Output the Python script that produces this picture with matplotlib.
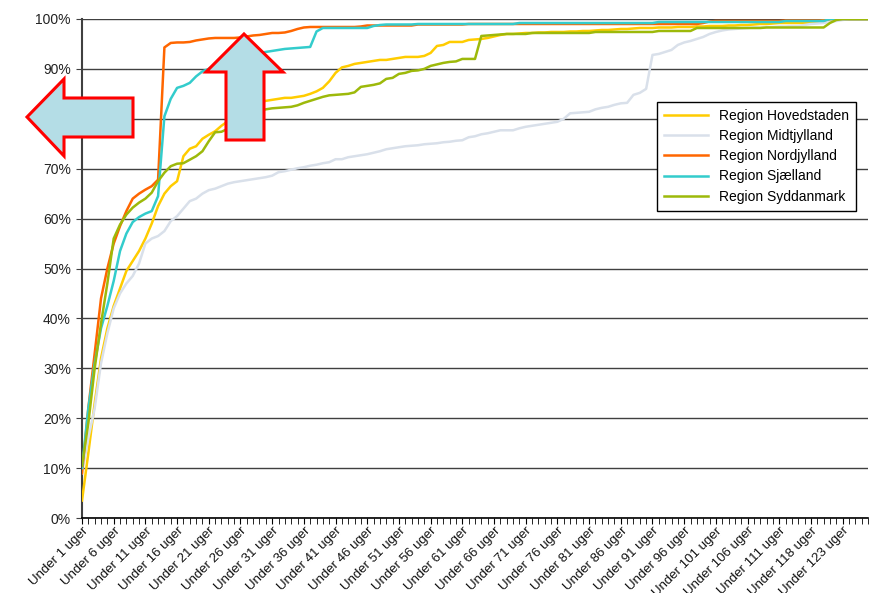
import numpy as np
import matplotlib.pyplot as plt
from matplotlib.patches import Polygon
from matplotlib.transforms import Affine2D

plt.rcParams['font.family'] = ['Liberation Sans', 'DejaVu Sans']

# weeks on the category axis (a few weeks are missing after 111)
weeks = list(range(1, 112)) + [112, 113, 115, 116] + list(range(118, 128))
categories = ["Under %d uger" % w for w in weeks]

hovedstaden = [
    3.5, 13, 23, 32, 38, 42.5, 46, 49.5, 51.5, 53.5,
    56, 59, 62.5, 65, 66.5, 67.5, 72.5, 74, 74.5, 76,
    76.8, 77.5, 78.6, 79.5, 80.5, 81.3, 82, 82.6, 83.2, 83.6,
    83.8, 84, 84.2, 84.2, 84.4, 84.6, 85, 85.5, 86.2, 87.5,
    89.2, 90.3, 90.6, 91, 91.2, 91.4, 91.6, 91.8, 91.8, 92,
    92.2, 92.4, 92.4, 92.4, 92.6, 93.2, 94.6, 94.8, 95.4, 95.4,
    95.4, 95.8, 95.9, 96, 96.2, 96.5, 96.8, 97, 97, 97.1,
    97.2, 97.2, 97.3, 97.3, 97.4, 97.4, 97.4, 97.5, 97.5, 97.6,
    97.6, 97.7, 97.8, 97.8, 97.9, 98, 98, 98.1, 98.2, 98.2,
    98.2, 98.3, 98.3, 98.3, 98.4, 98.4, 98.4, 98.5, 98.5, 98.6,
    98.6, 98.6, 98.7, 98.7, 98.8, 98.8, 98.9, 99, 99, 99.1,
    99.2, 99.2, 99.2, 99.2, 99.2, 99.2, 99.4, 99.8, 100, 100,
    100, 100, 100, 100, 100,
]
midtjylland = [
    9, 16, 22, 31, 37, 42, 45, 47, 48.5, 51,
    55, 56, 56.5, 57.5, 59.5, 60.5, 62, 63.5, 64, 65,
    65.7, 66, 66.5, 67, 67.3, 67.5, 67.7, 67.9, 68.1, 68.3,
    68.6, 69.3, 69.5, 69.8, 70.1, 70.3, 70.6, 70.8, 71.1, 71.3,
    71.9, 71.9, 72.3, 72.5, 72.7, 72.9, 73.2, 73.5, 73.9, 74.1,
    74.3, 74.5, 74.6, 74.7, 74.9, 75, 75.1, 75.3, 75.4, 75.6,
    75.7, 76.3, 76.5, 76.9, 77.1, 77.4, 77.7, 77.7, 77.7, 78.1,
    78.4, 78.6, 78.8, 79, 79.2, 79.4, 80, 81.1, 81.2, 81.3,
    81.4, 81.9, 82.2, 82.4, 82.8, 83.1, 83.2, 84.8, 85.2, 86,
    92.8, 93, 93.4, 93.8, 94.8, 95.3, 95.6, 96, 96.4, 97,
    97.4, 97.7, 97.9, 98, 98.1, 98.2, 98.3, 98.3, 98.4, 98.4,
    98.5, 98.5, 98.6, 98.6, 98.8, 99, 99.1, 99.2, 99.4, 99.6,
    99.8, 100, 100, 100, 100,
]
nordjylland = [
    9, 22, 33, 44, 50, 55, 58.5, 61.5, 64, 65,
    65.8, 66.5, 67.8, 94.3, 95.2, 95.3, 95.3, 95.4, 95.7, 95.9,
    96.1, 96.2, 96.2, 96.2, 96.2, 96.3, 96.5, 96.7, 96.8, 97,
    97.2, 97.2, 97.3, 97.6, 98, 98.3, 98.4, 98.4, 98.4, 98.4,
    98.4, 98.4, 98.4, 98.4, 98.5, 98.7, 98.7, 98.7, 98.7, 98.7,
    98.7, 98.7, 98.7, 98.9, 98.9, 98.9, 98.9, 98.9, 98.9, 98.9,
    98.9, 99, 99, 99, 99, 99, 99, 99, 99, 99,
    99, 99, 99, 99, 99, 99, 99, 99, 99, 99,
    99, 99, 99, 99, 99, 99, 99, 99, 99, 99,
    99, 99, 99, 99, 99, 99, 99, 99, 99.2, 99.5,
    99.6, 99.6, 99.6, 99.6, 99.6, 99.6, 99.6, 99.6, 99.6, 99.6,
    99.6, 99.7, 99.7, 99.7, 99.7, 99.7, 99.7, 99.7, 100, 100,
    100, 100, 100, 100, 100,
]
sjaelland = [
    10, 22, 31, 38, 42.5, 47.5, 53.5, 57, 59.3, 60.3,
    61, 61.5, 64.5, 80.5, 84, 86.2, 86.6, 87.2, 88.5, 89.5,
    90, 90.8, 91.5, 92, 92.4, 92.7, 92.9, 93, 93.2, 93.4,
    93.6, 93.8, 94, 94.1, 94.2, 94.3, 94.4, 97.5, 98.2, 98.2,
    98.2, 98.2, 98.2, 98.2, 98.2, 98.2, 98.6, 98.8, 98.9, 98.9,
    98.9, 98.9, 98.9, 99, 99, 99, 99, 99, 99, 99,
    99, 99, 99, 99, 99, 99, 99, 99, 99, 99.2,
    99.2, 99.2, 99.2, 99.2, 99.2, 99.2, 99.2, 99.2, 99.2, 99.2,
    99.2, 99.2, 99.2, 99.2, 99.2, 99.2, 99.2, 99.2, 99.2, 99.2,
    99.2, 99.4, 99.4, 99.4, 99.4, 99.4, 99.4, 99.4, 99.4, 99.4,
    99.4, 99.4, 99.4, 99.4, 99.4, 99.4, 99.4, 99.4, 99.4, 99.4,
    99.4, 99.6, 99.6, 99.6, 99.6, 99.6, 99.6, 99.6, 100, 100,
    100, 100, 100, 100, 100,
]
syddanmark = [
    10.5, 19, 30, 39, 47, 56, 58.8, 60.8, 62.2, 63.2,
    64, 65.2, 67.5, 69.2, 70.5, 71, 71.1, 71.8, 72.5, 73.5,
    75.5, 77.3, 77.4, 78, 78.8, 79.5, 80.2, 81, 81.6, 81.9,
    82.1, 82.2, 82.3, 82.4, 82.7, 83.2, 83.6, 84, 84.4, 84.7,
    84.8, 84.9, 85, 85.3, 86.4, 86.6, 86.8, 87.1, 88, 88.2,
    89, 89.2, 89.6, 89.7, 90, 90.6, 90.9, 91.2, 91.4, 91.5,
    92, 92, 92, 96.6, 96.7, 96.8, 96.9, 97, 97, 97,
    97, 97.2, 97.2, 97.2, 97.2, 97.2, 97.2, 97.2, 97.2, 97.2,
    97.2, 97.4, 97.4, 97.4, 97.4, 97.4, 97.4, 97.4, 97.4, 97.4,
    97.4, 97.6, 97.6, 97.6, 97.6, 97.6, 97.6, 98.2, 98.2, 98.2,
    98.2, 98.2, 98.2, 98.2, 98.2, 98.2, 98.2, 98.2, 98.3, 98.3,
    98.3, 98.3, 98.3, 98.3, 98.3, 98.3, 98.3, 98.3, 99.2, 99.8,
    100, 100, 100, 100, 100,
]

series = [
    ("Region Hovedstaden", hovedstaden, "#FFCC00"),
    ("Region Midtjylland", midtjylland, "#D9E0EA"),
    ("Region Nordjylland", nordjylland, "#FF6600"),
    ("Region Sjælland", sjaelland, "#33CCCC"),
    ("Region Syddanmark", syddanmark, "#9DB90A"),
]

W, H = 869, 593
fig = plt.figure(figsize=(W / 100, H / 100), dpi=100)
ax = fig.add_axes([82 / W, 1 - 518 / H, 786 / W, 499 / H])

x = np.arange(len(categories))
for name, vals, col in series:
    ax.plot(x, vals, color=col, lw=1.8, label=name, zorder=3)

ax.set_xlim(0, len(categories) - 1)
ax.set_ylim(0, 100)
ax.set_yticks(np.arange(0, 101, 10))
ax.set_yticklabels(["%d%%" % v for v in range(0, 101, 10)], fontsize=10, color="#222222")
ax.yaxis.grid(True, color="#404040", lw=1)
ax.set_axisbelow(True)

ax.set_xticks(x, minor=True)
ax.set_xticks(x[::5])
ax.set_xticklabels(categories[::5], rotation=45, ha="right", rotation_mode="anchor",
                   fontsize=9.5, color="#111111")
ax.tick_params(axis="x", which="both", length=4, color="black", pad=1)
ax.tick_params(axis="y", length=4, color="#404040", pad=4)

for s in ["top", "right"]:
    ax.spines[s].set_visible(False)
ax.spines["left"].set_color("#404040")
ax.spines["left"].set_linewidth(1.5)
ax.spines["bottom"].set_color("black")
ax.spines["bottom"].set_linewidth(1.2)

leg = ax.legend(loc="upper right", bbox_to_anchor=(0.994, 0.848), fontsize=10,
                frameon=True, fancybox=False, edgecolor="black", framealpha=1,
                handlelength=3.2, labelspacing=0.45, borderpad=0.5)
leg.get_frame().set_linewidth(1)
leg.set_zorder(5)

# block arrows, drawn in figure pixel coordinates
px = Affine2D().scale(1 / W, -1 / H).translate(0, 1) + fig.transFigure
left_arrow = [(27, 117), (64, 79), (64, 98), (133, 98), (133, 137), (64, 137), (64, 156)]
up_arrow = [(244, 34), (283, 72), (264, 72), (264, 140), (226, 140), (226, 72), (206, 72)]
for pts in (left_arrow, up_arrow):
    fig.patches.append(Polygon(pts, closed=True, facecolor="#B4DDE6", edgecolor="#FF0000",
                               lw=2.2, transform=px, zorder=10))

fig.savefig("out.png", dpi=100)
